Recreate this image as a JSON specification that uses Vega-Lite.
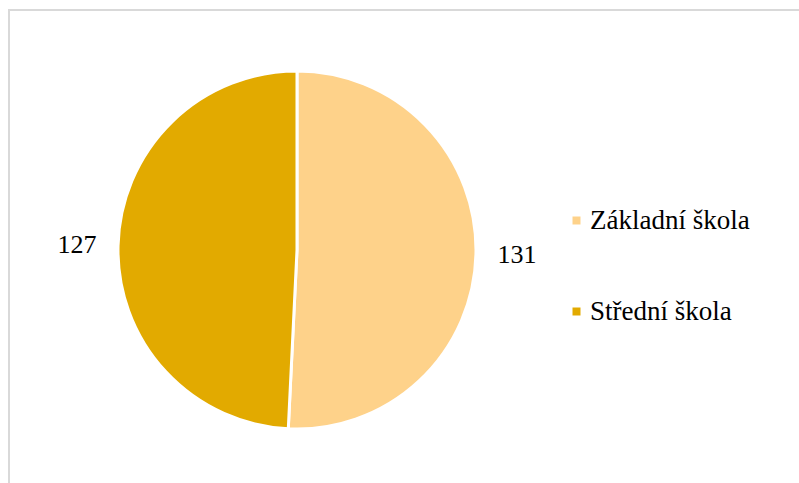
{
  "$schema": "https://vega.github.io/schema/vega-lite/v6.json",
  "width": 795,
  "height": 480,
  "padding": {"left": 9, "top": 10, "right": 0, "bottom": 0},
  "background": "white",
  "view": {"stroke": "#d9d9d9", "strokeWidth": 2, "fill": "white"},
  "config": {
    "font": "Liberation Serif"
  },
  "data": {
    "values": [
      {"typ": "Základní škola", "pocet": 131, "poradi": 1},
      {"typ": "Střední škola", "pocet": 127, "poradi": 2}
    ]
  },
  "encoding": {
    "theta": {"field": "pocet", "type": "quantitative", "stack": true},
    "order": {"field": "poradi", "type": "quantitative"},
    "color": {
      "field": "typ",
      "type": "nominal",
      "scale": {"domain": ["Základní škola", "Střední škola"], "range": ["#FED28A", "#E2AA00"]},
      "legend": {
        "title": null,
        "orient": "none",
        "legendX": 554,
        "legendY": 197,
        "padding": 0,
        "symbolType": "square",
        "symbolSize": 64,
        "symbolStrokeWidth": 0,
        "labelFont": "Liberation Serif",
        "labelFontSize": 27,
        "labelColor": "black",
        "labelOffset": 0,
        "rowPadding": 63,
        "labelLimit": 300
      }
    }
  },
  "layer": [
    {
      "mark": {"type": "arc", "outerRadius": 179, "stroke": "white", "strokeWidth": 3, "x": 288, "y": 240}
    },
    {
      "mark": {"type": "text", "radius": 220, "fontSize": 26, "font": "Liberation Serif", "color": "black", "x": 288, "y": 240},
      "encoding": {
        "text": {"field": "pocet", "type": "quantitative"},
        "color": {"value": "black"}
      }
    }
  ]
}
